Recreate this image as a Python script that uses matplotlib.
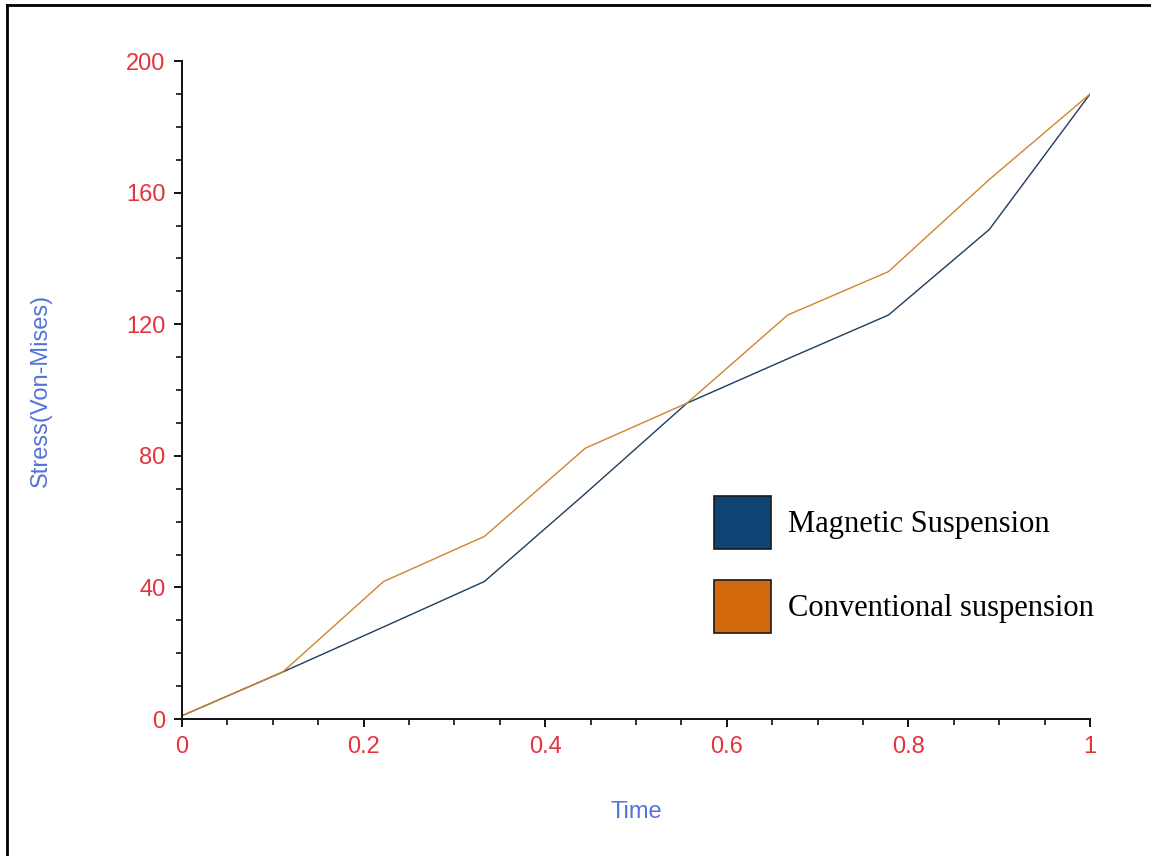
import matplotlib
matplotlib.use("Agg")
import matplotlib.pyplot as plt
from matplotlib.patches import Patch
from matplotlib.lines import Line2D
from matplotlib.ticker import MultipleLocator

time = [0, 0.111, 0.222, 0.333, 0.444, 0.556, 0.667, 0.778, 0.889, 1.0]
magnetic = [1, 14.3, 28, 41.8, 68.5, 96, 109.5, 122.8, 148.8, 190]
conventional = [1, 14.3, 41.8, 55.5, 82.3, 96, 122.8, 136, 164, 190]

tick_red = '#e3343e'
label_blue = '#5273dc'

fig = plt.figure(figsize=(11.51, 8.56), dpi=100)
ax = fig.add_axes([0.1581, 0.160, 0.789, 0.7687])

ax.plot(time, magnetic, color='#1d3d5e', linewidth=1.0)
ax.plot(time, conventional, color='#d0842c', linewidth=1.0)

ax.set_xlim(0, 1)
ax.set_ylim(0, 200)
ax.xaxis.set_major_locator(MultipleLocator(0.2))
ax.xaxis.set_minor_locator(MultipleLocator(0.05))
ax.yaxis.set_major_locator(MultipleLocator(40))
ax.yaxis.set_minor_locator(MultipleLocator(10))
ax.xaxis.set_major_formatter(lambda v, p: '0' if v == 0 else ('1' if v == 1 else f'{v:g}'))

for s in ['top', 'right']:
    ax.spines[s].set_visible(False)
for s in ['left', 'bottom']:
    ax.spines[s].set_linewidth(1.4)
    ax.spines[s].set_color('#111111')

ax.tick_params(which='major', length=6, width=1.4, color='#111111',
               labelsize=17, labelcolor=tick_red, pad=6)
ax.tick_params(which='minor', length=4, width=1.2, color='#111111')
for lab in ax.get_xticklabels() + ax.get_yticklabels():
    lab.set_fontfamily('Liberation Sans')

ax.set_xlabel('Time', color=label_blue, fontsize=17, family='Liberation Sans')
ax.set_ylabel('Stress(Von-Mises)', color=label_blue, fontsize=17, family='Liberation Sans')
ax.xaxis.set_label_coords(0.5, -0.125)
ax.yaxis.set_label_coords(-0.143, 0.5)

handles = [Patch(facecolor='#0d4474', edgecolor='#1a1a1a', linewidth=1.2),
           Patch(facecolor='#d2690c', edgecolor='#1a1a1a', linewidth=1.2)]
leg = ax.legend(handles, ['Magnetic Suspension', 'Conventional suspension'],
                loc='upper left', bbox_to_anchor=(0.586, 0.339), frameon=False,
                borderpad=0, borderaxespad=0, handlelength=1.87, handleheight=2.3,
                handletextpad=0.55, labelspacing=1.0,
                prop={'family': 'Liberation Serif', 'size': 22})

# figure border (left and top)
fig.add_artist(Line2D([0.0063, 0.0063], [0, 0.9942], transform=fig.transFigure,
                      color='black', linewidth=2))
fig.add_artist(Line2D([0.0063, 1], [0.9942, 0.9942], transform=fig.transFigure,
                      color='black', linewidth=2))

fig.savefig('out.png', dpi=100)
